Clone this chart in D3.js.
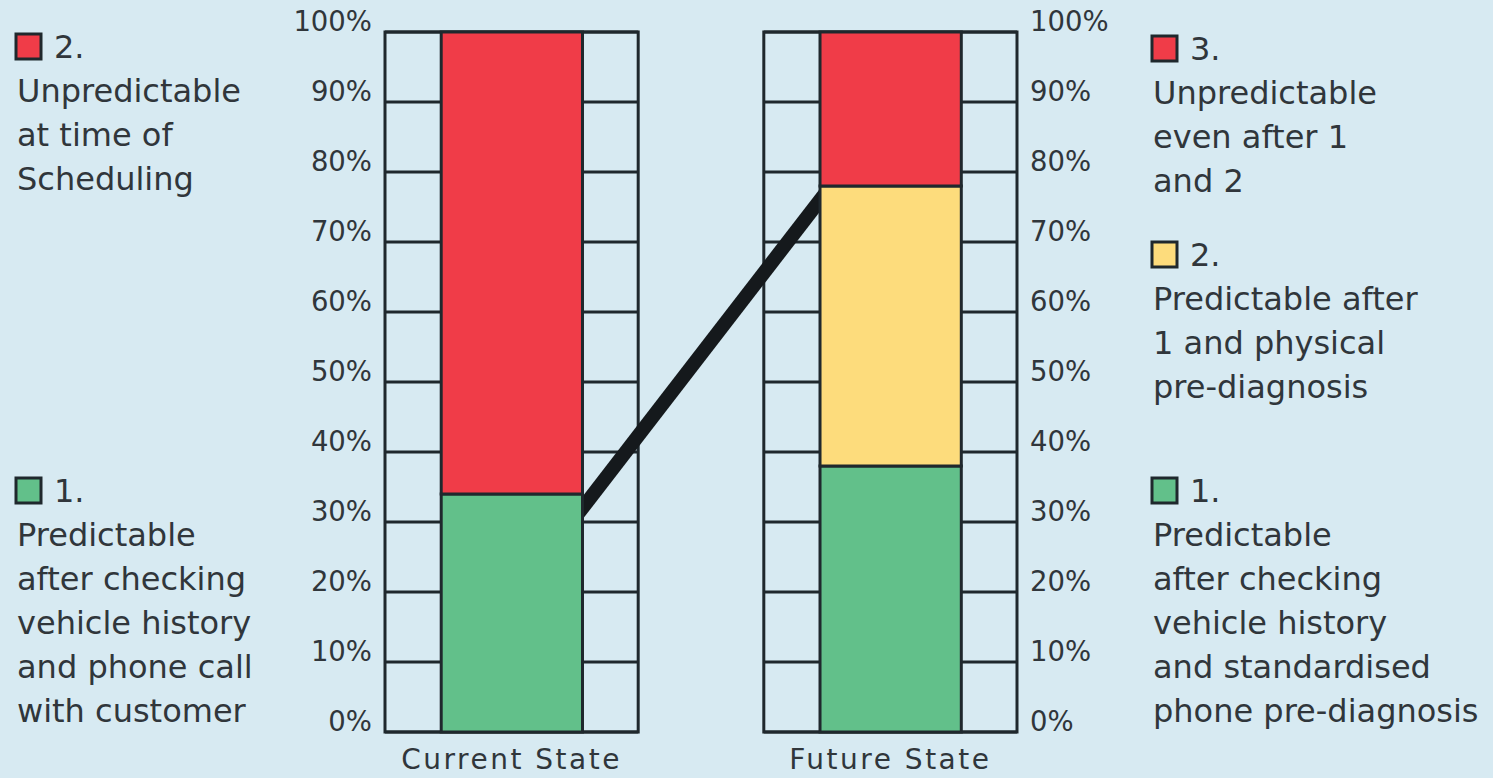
<!DOCTYPE html>
<html>
<head>
<meta charset="utf-8">
<script src="https://cdn.jsdelivr.net/npm/d3@7/dist/d3.min.js"></script>
<style>
  html, body { margin: 0; padding: 0; background: #d7eaf2; }
  svg { display: block; }
  text { font-family: "DejaVu Sans", "Noto Sans", sans-serif; fill: #30363b; }
</style>
</head>
<body>
<svg id="chart" width="1493" height="778"></svg>
<script>
// Categories and stacked segment values (percent)
const categories = ["Current State", "Future State"];
const segmentKeys = ["green", "yellow", "red"];
const currentValues = { green: 34, yellow: 0, red: 66 };
const futureValues = { green: 38, yellow: 40, red: 22 };
const tickValues = [0, 10, 20, 30, 40, 50, 60, 70, 80, 90, 100];
// Connector from the current bar to the future bar (percent at each bar edge)
const connector = { from: 32, to: 76 };

const colors = { green: "#62c08a", yellow: "#fddc7c", red: "#f03c48" };
const ink = "#1f282d";

const legendLeft = [
  { key: "red", lines: ["2.", "Unpredictable", "at time of", "Scheduling"], y: 47 },
  { key: "green", lines: ["1.", "Predictable", "after checking", "vehicle history", "and phone call", "with customer"], y: 491 }
];
const legendRight = [
  { key: "red", lines: ["3.", "Unpredictable", "even after 1", "and 2"], y: 49 },
  { key: "yellow", lines: ["2.", "Predictable after", "1 and physical", "pre-diagnosis"], y: 255 },
  { key: "green", lines: ["1.", "Predictable", "after checking", "vehicle history", "and standardised", "phone pre-diagnosis"], y: 491 }
];

const svg = d3.select("#chart");
svg.append("rect").attr("width", 1493).attr("height", 778).attr("fill", "#d7eaf2");

const y = d3.scaleLinear().domain([0, 100]).range([732, 32]);
const x = d3.scaleBand().domain(categories).range([385, 1017]).paddingInner(0.3316).paddingOuter(0);
const bw = x.bandwidth();
const barInset = 0.222 * bw, barW = 0.558 * bw;

const dataRows = [
  { cat: categories[0], vals: currentValues },
  { cat: categories[1], vals: futureValues }
];
const stack = d3.stack().keys(segmentKeys);
const stacked = stack(dataRows.map(r => Object.assign({ cat: r.cat }, r.vals)));

// Panels: gridlines
const panels = svg.selectAll("g.panel").data(categories).join("g")
  .attr("class", "panel").attr("transform", d => `translate(${x(d)},0)`);
panels.selectAll("line.grid").data(tickValues).join("line")
  .attr("class", "grid")
  .attr("x1", 0).attr("x2", bw)
  .attr("y1", d => y(d)).attr("y2", d => y(d))
  .attr("stroke", ink).attr("stroke-width", 3);

// Connector line (drawn beneath the bars so its ends meet the bar edges)
const x0 = x(categories[0]) + barInset + barW, y0 = y(connector.from);
const x1 = x(categories[1]) + barInset, y1 = y(connector.to);
const len = Math.hypot(x1 - x0, y1 - y0), ux = (x1 - x0) / len, uy = (y1 - y0) / len;
const ext = 14;
svg.append("line")
  .attr("x1", x0 - ux * ext).attr("y1", y0 - uy * ext)
  .attr("x2", x1 + ux * ext).attr("y2", y1 + uy * ext)
  .attr("stroke", "#15191c").attr("stroke-width", 14);

// Stacked bars
stacked.forEach(layer => {
  svg.append("g").selectAll("rect").data(layer.filter(d => d[1] - d[0] > 0)).join("rect")
    .attr("x", d => x(d.data.cat) + barInset)
    .attr("width", barW)
    .attr("y", d => y(d[1]))
    .attr("height", d => y(d[0]) - y(d[1]))
    .attr("fill", colors[layer.key])
    .attr("stroke", ink).attr("stroke-width", 3);
});

// Panel outlines
panels.append("rect")
  .attr("x", 0).attr("y", y(100)).attr("width", bw).attr("height", y(0) - y(100))
  .attr("fill", "none").attr("stroke", ink).attr("stroke-width", 3);

// Axes
const fmt = d => d + "%";
const leftAxis = svg.append("g").attr("transform", `translate(${x(categories[0])},0)`)
  .call(d3.axisLeft(y).tickValues(tickValues).tickFormat(fmt).tickSize(0).tickPadding(13));
const rightAxis = svg.append("g").attr("transform", `translate(${x(categories[1]) + bw},0)`)
  .call(d3.axisRight(y).tickValues(tickValues).tickFormat(fmt).tickSize(0).tickPadding(13));
[leftAxis, rightAxis].forEach(g => {
  g.attr("font-family", null).attr("font-size", null);
  g.select(".domain").remove();
  g.selectAll("text").attr("font-size", 27.5).attr("fill", "#30363b").attr("dy", "-0.05em");
});

// Category labels
svg.append("g").selectAll("text").data(categories).join("text")
  .attr("x", d => x(d) + bw / 2).attr("y", 759)
  .attr("text-anchor", "middle").attr("dominant-baseline", "central")
  .attr("font-size", 28).attr("letter-spacing", 2.5).text(d => d);

// Legends
function drawLegend(items, left) {
  items.forEach(item => {
    const g = svg.append("g");
    g.append("rect")
      .attr("x", left).attr("y", item.y - 13).attr("width", 25).attr("height", 25)
      .attr("fill", colors[item.key]).attr("stroke", ink).attr("stroke-width", 3);
    g.selectAll("text").data(item.lines).join("text")
      .attr("x", (d, i) => i === 0 ? left + 38 : left + 1)
      .attr("y", (d, i) => item.y + i * 44)
      .attr("dominant-baseline", "central")
      .attr("font-size", 32)
      .text(d => d);
  });
}
drawLegend(legendLeft, 16);
drawLegend(legendRight, 1152);
</script>
</body>
</html>
